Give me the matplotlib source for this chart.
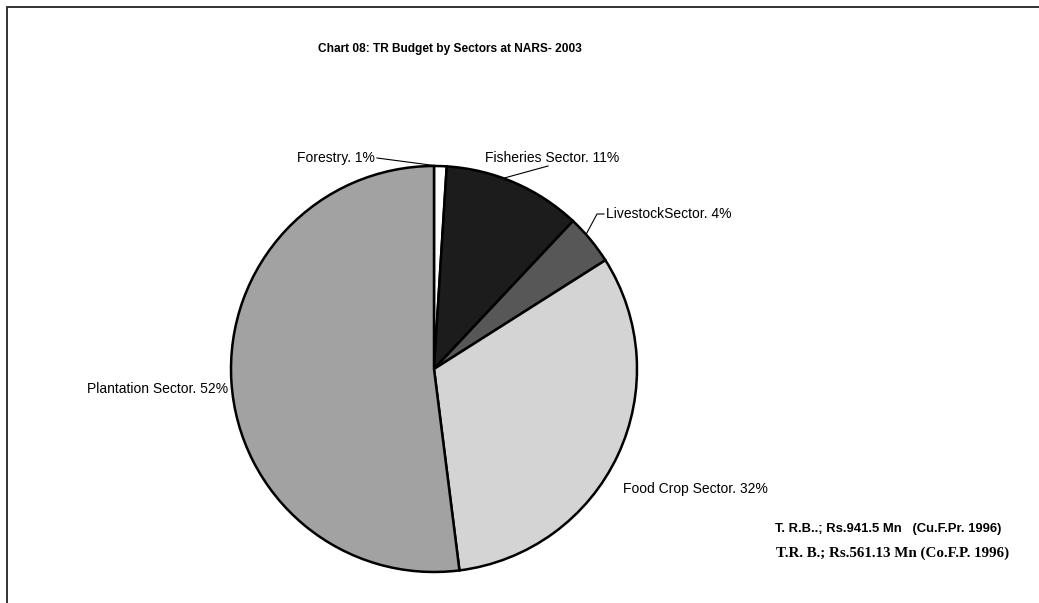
import numpy as np
import matplotlib.pyplot as plt
from matplotlib.patches import Rectangle

plt.rcParams['font.family'] = ['Liberation Sans', 'DejaVu Sans']

# Data (clockwise from 12 o'clock)
sectors = ["Forestry", "Fisheries Sector", "LivestockSector", "Food Crop Sector", "Plantation Sector"]
shares = [1, 11, 4, 32, 52]
colors = ["#ffffff", "#1c1c1c", "#575757", "#d4d4d4", "#a2a2a2"]

W, H = 1039, 603
fig = plt.figure(figsize=(W / 100, H / 100), dpi=100)
ax = fig.add_axes([0, 0, 1, 1])

# outer frame (right and bottom run off the picture)
ax.add_patch(Rectangle((7, -20), W + 20, H - 7 + 20, fill=False, edgecolor="#333333", linewidth=1.4))

cx, cy, r = 434, H - 369, 203
wedges, _ = ax.pie(shares, colors=colors, startangle=90, counterclock=False,
                   center=(cx, cy), radius=r, frame=True,
                   wedgeprops=dict(edgecolor="black", linewidth=1.8))
ax.set_xlim(0, W)
ax.set_ylim(0, H)
ax.set_aspect("equal")
ax.axis("off")

ax.text(450, H - 49, "Chart 08: TR Budget by Sectors at NARS- 2003", ha="center", va="center",
        fontsize=8.6, fontweight="bold")

labels = [f"{s}. {v}%" for s, v in zip(sectors, shares)]


def edge(angle_deg):
    a = np.deg2rad(angle_deg)
    return cx + r * np.cos(a), cy + r * np.sin(a)


lab_fs = 10
# Forestry
ax.text(375, H - 158, labels[0], ha="right", va="center", fontsize=lab_fs)
ex, ey = edge(88.8)
ax.plot([377, ex], [H - 158, ey], color="black", lw=0.8)
# Fisheries
ax.text(485, H - 158, labels[1], ha="left", va="center", fontsize=lab_fs)
ex, ey = edge(70)
ax.plot([548, ex], [H - 166, ey], color="black", lw=0.8)
# Livestock
ax.text(606, H - 214, labels[2], ha="left", va="center", fontsize=lab_fs)
ex, ey = edge(41.5)
ax.plot([604, 597, ex], [H - 214, H - 214, ey], color="black", lw=0.8)
# Food crop
ax.text(623, H - 489, labels[3], ha="left", va="center", fontsize=lab_fs)
# Plantation
ax.text(228, H - 389, labels[4], ha="right", va="center", fontsize=lab_fs)

ax.text(1001, H - 529, "T. R.B..; Rs.941.5 Mn   (Cu.F.Pr. 1996)", ha="right", va="center",
        fontsize=9.4, fontweight="bold")
ax.text(1009, H - 553, "T.R. B.; Rs.561.13 Mn (Co.F.P. 1996)", ha="right", va="center",
        fontsize=10.8, fontweight="bold", family=["Liberation Serif", "DejaVu Serif"])

fig.savefig("out.png", dpi=100)
